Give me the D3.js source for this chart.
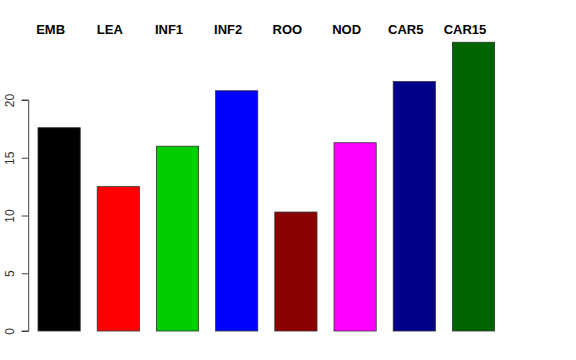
<!DOCTYPE html>
<html>
<head>
<meta charset="utf-8">
<script src="https://cdn.jsdelivr.net/npm/d3@7"></script>
<style>
  body { margin: 0; background: #fff; }
  text { font-family: "Liberation Sans", Arial, Helvetica, sans-serif; }
</style>
</head>
<body>
<svg id="chart" width="576" height="360"></svg>
<script>
// data
const categories = ["EMB", "LEA", "INF1", "INF2", "ROO", "NOD", "CAR5", "CAR15"];
const values = [17.6, 12.5, 16.0, 20.8, 10.3, 16.3, 21.6, 25.0];
const colors = ["#000000", "#ff0000", "#00cd00", "#0000ff", "#8b0000", "#ff00ff", "#00008b", "#006400"];
const yTicks = [0, 5, 10, 15, 20];

const svg = d3.select("#chart");

const x = d3.scaleBand()
  .domain(categories)
  .range([38, 494.6])
  .paddingInner(0.287)
  .paddingOuter(0);

const y = d3.scaleLinear()
  .domain([0, 20])
  .range([331, 100]);

// bars
svg.append("g")
  .selectAll("rect")
  .data(categories)
  .join("rect")
  .attr("x", (d) => x(d))
  .attr("y", (d, i) => y(values[i]))
  .attr("width", x.bandwidth())
  .attr("height", (d, i) => y(0) - y(values[i]))
  .attr("fill", (d, i) => colors[i])
  .attr("stroke", "#333")
  .attr("stroke-width", 0.8);

// labels above (slightly left of bar centre, like the original)
svg.append("g")
  .selectAll("text")
  .data(categories)
  .join("text")
  .attr("x", (d) => x(d) + x.bandwidth() / 2 - 8.5)
  .attr("y", 34)
  .attr("text-anchor", "middle")
  .attr("font-weight", "bold")
  .attr("font-size", 13)
  .text((d) => d);

// y axis, R style
const axisG = svg.append("g")
  .attr("transform", "translate(28.7,0)")
  .call(d3.axisLeft(y).tickValues(yTicks).tickSize(7));

axisG.select(".domain").attr("stroke", "#444").attr("d", `M-7,${y(0)}H0V${y(20)}H-7`);
axisG.selectAll(".tick line").attr("stroke", "#444");
// rotated tick labels
axisG.selectAll(".tick text")
  .attr("font-size", 12)
  .attr("fill", "#333")
  .attr("font-family", "Liberation Sans, Arial, sans-serif")
  .attr("text-anchor", "middle")
  .attr("transform", "rotate(-90)")
  .attr("x", 0)
  .attr("y", -19)
  .attr("dy", "0.32em");
</script>
</body>
</html>
